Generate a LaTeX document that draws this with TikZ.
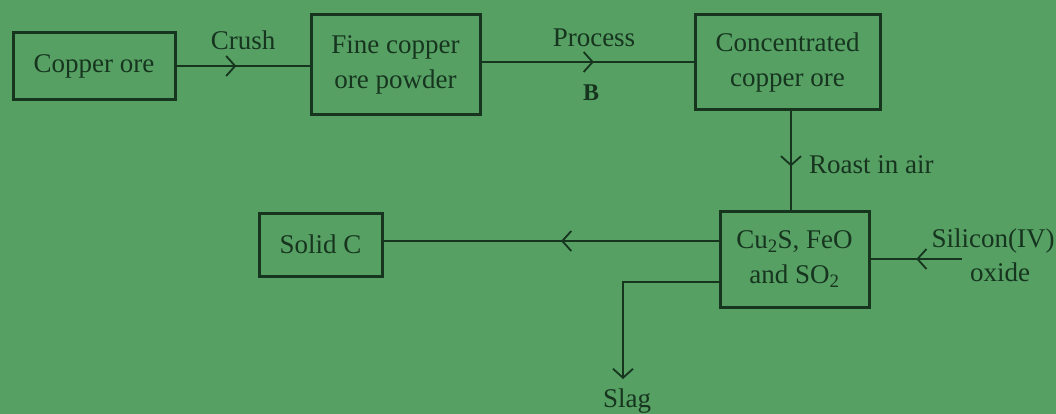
\documentclass[tikz,border=0pt]{standalone}
\usepackage{fontspec}
\setmainfont{Liberation Serif}
\usetikzlibrary{arrows.meta,decorations.markings}
\definecolor{paper}{RGB}{86,160,100}
\definecolor{ink}{RGB}{22,52,30}
\tikzset{
  x=1pt, y=-1pt,
  every node/.style={text=ink, font=\fontsize{27}{35}\selectfont},
  box/.style={draw=ink, line width=3pt, rectangle, inner sep=0pt, align=center},
  lbl/.style={inner sep=0pt, align=center},
  flow/.style={draw=ink, line width=2.4pt},
  midarrow/.style={postaction={decorate}, decoration={markings,
     mark=at position #1 with {\arrow[ink, line width=1.8pt]{Straight Barb[length=9pt,width=20pt]}}}},
  endarrow/.style={-{Straight Barb[length=9pt,width=20pt,line width=1.8pt]}}
}
\begin{document}
\begin{tikzpicture}
\fill[paper] (0,0) rectangle (1056,414);
\useasboundingbox (0,0) rectangle (1056,414);

\node[box, minimum width=162pt, minimum height=67pt] (ore) at (94,66.5) {Copper ore};
\node[box, minimum width=169pt, minimum height=100pt] (fine) at (395.5,65) {Fine copper\\ore powder};
\node[box, minimum width=185pt, minimum height=95pt] (conc) at (787.5,62.5) {Concentrated\\copper ore};
\node[box, minimum width=149pt, minimum height=96pt] (mix) at (794.5,259) {Cu\textsubscript{2}S, FeO\\and SO\textsubscript{2}};
\node[box, minimum width=123pt, minimum height=63pt] (solid) at (320.5,244.5) {Solid C};

\node[lbl] (crush) at (243,40) {Crush};
\node[lbl] (proc) at (594,38) {Process};
\node[lbl, font=\fontsize{24}{30}\selectfont\bfseries] (b) at (591,93) {B};
\node[lbl, anchor=west] (roast) at (809,165) {Roast in air};
\node[lbl] (sil) at (993,241) {Silicon(IV)};
\node[lbl] (oxide) at (1000,272) {oxide};
\node[lbl] (slag) at (627,401) {Slag};

\coordinate (silin) at (962,259);
\coordinate (slagturn) at (623,282);
\coordinate (slagend) at (623,379);

\draw[flow, midarrow=0.45] (ore.east |- 0,66) -- (fine.west |- 0,66);
\draw[flow, midarrow=0.53] (fine.east |- 0,62) -- (conc.west |- 0,62);
\draw[flow, midarrow=0.56] (791,0 |- conc.south) -- (791,0 |- mix.north);
\draw[flow, midarrow=0.47] (mix.west |- 0,241) -- (solid.east |- 0,241);
\draw[flow, midarrow=0.5] (silin) -- (mix.east |- silin);
\draw[flow, endarrow] (mix.west |- slagturn) -- (slagturn) -- (slagend);
\end{tikzpicture}
\end{document}
